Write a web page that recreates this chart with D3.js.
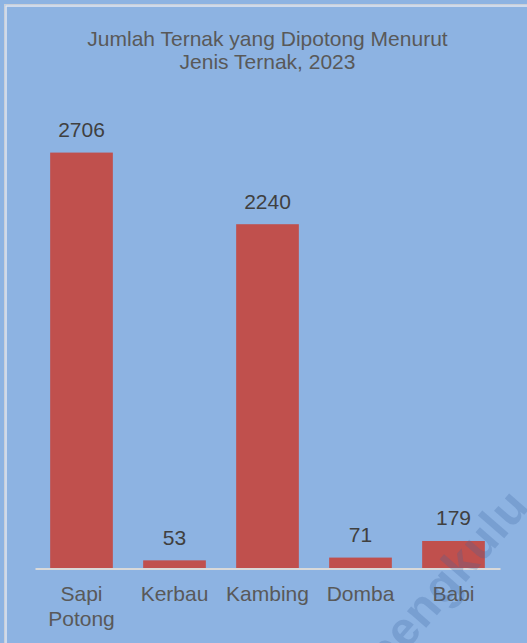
<!DOCTYPE html>
<html>
<head>
<meta charset="utf-8">
<script src="https://cdn.jsdelivr.net/npm/d3@7/dist/d3.min.js"></script>
<style>
  html, body { margin: 0; padding: 0; background: #8DB3E2; }
  svg { display: block; }
</style>
</head>
<body>
<script>
const categories = [["Sapi", "Potong"], ["Kerbau"], ["Kambing"], ["Domba"], ["Babi"]];
const categoryKeys = ["Sapi Potong", "Kerbau", "Kambing", "Domba", "Babi"];
const values = [2706, 53, 2240, 71, 179];
const titleLines = ["Jumlah Ternak yang Dipotong Menurut", "Jenis Ternak, 2023"];
const watermark = "bengkulu";

const W = 527, H = 643;
const svg = d3.select("body").append("svg").attr("width", W).attr("height", H);
const font = "'Liberation Sans', Arial, sans-serif";

svg.append("rect").attr("width", W).attr("height", H).attr("fill", "#8DB3E2");
// border
svg.append("rect").attr("x", 4.5).attr("y", 4.5).attr("width", 700).attr("height", 800)
  .attr("fill", "none").attr("stroke", "#c9cfd8").attr("stroke-width", 1);
svg.append("rect").attr("x", 6).attr("y", 6).attr("width", 700).attr("height", 800)
  .attr("fill", "none").attr("stroke", "#e3e8ef").attr("stroke-width", 1.5);

// title
svg.append("text").attr("x", 267.5).attr("y", 45.5).attr("text-anchor", "middle")
  .attr("font-family", font).attr("font-size", 21).attr("fill", "#595959")
  .selectAll("tspan").data(titleLines).join("tspan")
  .attr("x", 267.5).attr("dy", (d, i) => i === 0 ? 0 : 23.5).text(d => d);

const x = d3.scaleBand().domain(categoryKeys).range([35, 500])
  .paddingInner(0.326).paddingOuter(0.163);
const y = d3.scaleLinear().domain([0, 3000]).range([568.5, 568.5 - 461.1]);

const g = svg.append("g");
g.selectAll("rect.bar").data(values).join("rect").attr("class", "bar")
  .attr("x", (d, i) => x(categoryKeys[i]))
  .attr("width", x.bandwidth())
  .attr("y", d => y(d))
  .attr("height", d => y(0) - y(d))
  .attr("fill", "#C0504D");

// axis line
const axis = d3.axisBottom(x).tickSize(0).tickFormat("");
const ax = svg.append("g").attr("transform", `translate(0,${y(0)})`).call(axis);
ax.select(".domain").attr("stroke", "#d9d9d9").attr("stroke-width", 2);

// value labels
g.selectAll("text.val").data(values).join("text").attr("class", "val")
  .attr("x", (d, i) => x(categoryKeys[i]) + x.bandwidth() / 2)
  .attr("y", d => y(d) - 15.5)
  .attr("text-anchor", "middle").attr("font-family", font).attr("font-size", 21)
  .attr("fill", "#404040").text(d => d);

// category labels
const cl = g.selectAll("text.cat").data(categories).join("text").attr("class", "cat")
  .attr("text-anchor", "middle").attr("font-family", font).attr("font-size", 21)
  .attr("fill", "#595959")
  .attr("y", 601);
cl.each(function(d, i) {
  const cx = x(categoryKeys[i]) + x.bandwidth() / 2;
  d3.select(this).selectAll("tspan").data(d).join("tspan")
    .attr("x", cx).attr("dy", (t, j) => j === 0 ? 0 : 25).text(t => t);
});

// watermark
svg.append("text").attr("transform", "translate(386,674) rotate(-49)")
  .attr("font-family", font).attr("font-size", 48).attr("font-weight", "bold")
  .attr("letter-spacing", 1)
  .attr("fill", "rgba(60,100,160,0.25)").text(watermark);
</script>
</body>
</html>
